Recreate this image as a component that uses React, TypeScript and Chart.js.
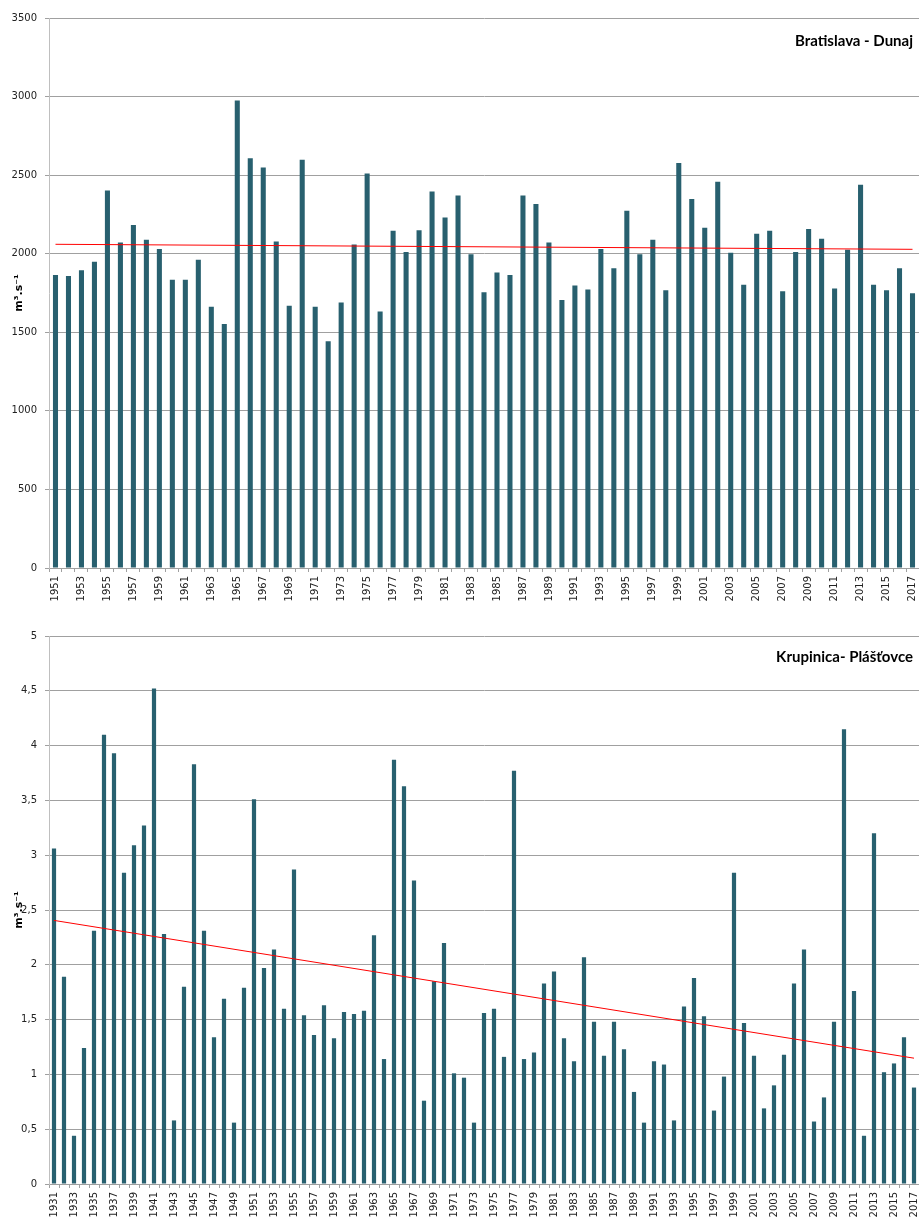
import React, { useEffect, useRef } from 'react';
import { Chart, registerables } from 'chart.js';

Chart.register(...registerables);

// ---------- Data: Bratislava - Dunaj ----------
const bratislavaYears = [
  '1951','1952','1953','1954','1955','1956','1957','1958','1959','1960',
  '1961','1962','1963','1964','1965','1966','1967','1968','1969','1970',
  '1971','1972','1973','1974','1975','1976','1977','1978','1979','1980',
  '1981','1982','1983','1984','1985','1986','1987','1988','1989','1990',
  '1991','1992','1993','1994','1995','1996','1997','1998','1999','2000',
  '2001','2002','2003','2004','2005','2006','2007','2008','2009','2010',
  '2011','2012','2013','2014','2015','2016','2017',
];
const bratislavaFlow = [
  1864, 1858, 1894, 1949, 2403, 2072, 2182, 2089, 2030, 1835,
  1835, 1962, 1663, 1553, 2975, 2608, 2549, 2078, 1669, 2598,
  1663, 1443, 1689, 2059, 2511, 1633, 2146, 2011, 2150, 2396,
  2231, 2371, 1996, 1754, 1881, 1864, 2371, 2316, 2072, 1705,
  1797, 1773, 2030, 1907, 2273, 1996, 2089, 1767, 2578, 2348,
  2165, 2458, 2006, 1803, 2127, 2146, 1761, 2011, 2157, 2095,
  1778, 2025, 2439, 1803, 1767, 1907, 1748,
];
const bratislavaTrendEnds = [2060, 2028];
const bratislavaTicks = [0, 500, 1000, 1500, 2000, 2500, 3000, 3500];

// ---------- Data: Krupinica - Plášťovce ----------
const krupinicaYears = [
  '1931','1932','1933','1934','1935','1936','1937','1938','1939','1940',
  '1941','1942','1943','1944','1945','1946','1947','1948','1949','1950',
  '1951','1952','1953','1954','1955','1956','1957','1958','1959','1960',
  '1961','1962','1963','1964','1965','1966','1967','1968','1969','1970',
  '1971','1972','1973','1974','1975','1976','1977','1978','1979','1980',
  '1981','1982','1983','1984','1985','1986','1987','1988','1989','1990',
  '1991','1992','1993','1994','1995','1996','1997','1998','1999','2000',
  '2001','2002','2003','2004','2005','2006','2007','2008','2009','2010',
  '2011','2012','2013','2014','2015','2016','2017',
];
const krupinicaFlow = [
  3.06, 1.89, 0.44, 1.24, 2.31, 4.10, 3.93, 2.84, 3.09, 3.27,
  4.52, 2.28, 0.58, 1.80, 3.83, 2.31, 1.34, 1.69, 0.56, 1.79,
  3.51, 1.97, 2.14, 1.60, 2.87, 1.54, 1.36, 1.63, 1.33, 1.57,
  1.55, 1.58, 2.27, 1.14, 3.87, 3.63, 2.77, 0.76, 1.85, 2.20,
  1.01, 0.97, 0.56, 1.56, 1.60, 1.16, 3.77, 1.14, 1.20, 1.83,
  1.94, 1.33, 1.12, 2.07, 1.48, 1.17, 1.48, 1.23, 0.84, 0.56,
  1.12, 1.09, 0.58, 1.62, 1.88, 1.53, 0.67, 0.98, 2.84, 1.47,
  1.17, 0.69, 0.90, 1.18, 1.83, 2.14, 0.57, 0.79, 1.48, 4.15,
  1.76, 0.44, 3.20, 1.02, 1.10, 1.34, 0.88,
];
const krupinicaTrendEnds = [2.405, 1.148];
const krupinicaTicks = [0, 0.5, 1, 1.5, 2, 2.5, 3, 3.5, 4, 4.5, 5];

const yAxisTitle = 'm³.s⁻¹';
const BAR_COLOR = '#28606f';

const cornerTitlePlugin = {
  id: 'cornerTitle',
  afterDraw(chart: any, _args: any, opts: any) {
    if (!opts || !opts.text) return;
    const { ctx, chartArea } = chart;
    ctx.save();
    ctx.font = opts.font;
    ctx.fillStyle = '#000';
    ctx.textAlign = 'right';
    ctx.textBaseline = 'middle';
    ctx.fillText(opts.text, chartArea.right - opts.dx, chartArea.top + opts.dy);
    ctx.restore();
  },
};

type Props = {
  years: string[];
  values: number[];
  trend: number[];
  ticks: number[];
  title: string;
  height: number;
  padTop: number;
  padBottom: number;
  barPct: number;
  decimalComma: boolean;
  titleDy: number;
};

function FlowChart(p: Props) {
  const ref = useRef<HTMLCanvasElement | null>(null);
  useEffect(() => {
    if (!ref.current) return;
    const yMin = p.ticks[0];
    const yMax = p.ticks[p.ticks.length - 1];
    const step = p.ticks[1] - p.ticks[0];
    const chart = new Chart(ref.current, {
      type: 'bar',
      data: {
        labels: p.years,
        datasets: [
          {
            type: 'line',
            data: [
              { x: p.years[0], y: p.trend[0] },
              { x: p.years[p.years.length - 1], y: p.trend[1] },
            ] as any,
            borderColor: '#ff0000',
            borderWidth: 1,
            pointRadius: 0,
            fill: false,
            order: 0,
          } as any,
          {
            type: 'bar',
            data: p.values,
            backgroundColor: BAR_COLOR,
            borderWidth: 0,
            categoryPercentage: 1,
            barPercentage: p.barPct,
            order: 1,
          } as any,
        ],
      },
      options: {
        animation: false,
        responsive: true,
        maintainAspectRatio: false,
        layout: { padding: { top: p.padTop, bottom: p.padBottom, left: 0, right: 0 } },
        plugins: {
          legend: { display: false },
          tooltip: { enabled: false },
          cornerTitle: { text: p.title, font: 'bold 15px Lato', dx: 6, dy: p.titleDy },
        } as any,
        scales: {
          x: {
            offset: true,
            grid: {
              display: true,
              drawOnChartArea: false,
              drawTicks: true,
              tickLength: 4,
              offset: true,
              color: '#a0a0a0',
            },
            border: { display: true, color: '#a0a0a0' },
            ticks: {
              autoSkip: false,
              minRotation: 90,
              maxRotation: 90,
              padding: 4,
              color: '#222',
              font: { family: 'DejaVu Sans', size: 10 },
              callback: function (this: any, value: any, index: number) {
                return index % 2 === 0 ? this.getLabelForValue(value) : '';
              },
            },
            afterFit: (scale: any) => {
              scale.height = 33;
              scale.paddingRight = 0;
              scale.paddingLeft = 0;
            },
          },
          y: {
            min: yMin,
            max: yMax,
            grid: { color: '#a0a0a0', tickLength: 4, drawTicks: true },
            border: { display: true, color: '#bfbfbf' },
            ticks: {
              stepSize: step,
              padding: 8,
              color: '#222',
              font: { family: 'DejaVu Sans', size: 10 },
              callback: (v: any) => (p.decimalComma ? String(v).replace('.', ',') : String(v)),
            },
            title: {
              display: true,
              text: yAxisTitle,
              color: '#000',
              font: { family: 'DejaVu Sans', size: 11, weight: 'bold' },
              padding: { top: 13, bottom: 0 },
            },
            afterFit: (scale: any) => {
              scale.width = 49;
            },
          },
        },
      },
      plugins: [cornerTitlePlugin],
    });
    return () => chart.destroy();
  }, []);
  return (
    <div style={{ position: 'relative', width: 919, height: p.height }}>
      <canvas ref={ref} />
    </div>
  );
}

export default function App() {
  return (
    <div style={{ position: 'absolute', left: 0, top: 0, width: 919, height: 1217, background: '#fff' }}>
      <FlowChart
        years={bratislavaYears}
        values={bratislavaFlow}
        trend={bratislavaTrendEnds}
        ticks={bratislavaTicks}
        title="Bratislava - Dunaj"
        height={612}
        padTop={18}
        padBottom={11}
        barPct={0.39}
        decimalComma={false}
        titleDy={23}
      />
      <FlowChart
        years={krupinicaYears}
        values={krupinicaFlow}
        trend={krupinicaTrendEnds}
        ticks={krupinicaTicks}
        title="Krupinica- Plášťovce"
        height={605}
        padTop={24}
        padBottom={0}
        barPct={0.42}
        decimalComma={true}
        titleDy={21}
      />
    </div>
  );
}
